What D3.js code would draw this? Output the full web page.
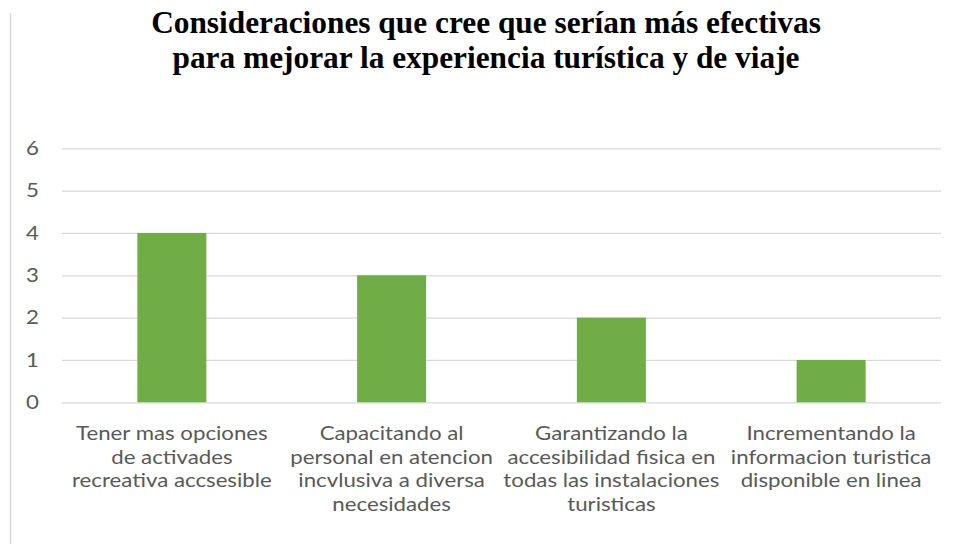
<!DOCTYPE html>
<html><head><meta charset="utf-8">
<script src="https://cdn.jsdelivr.net/npm/d3@7"></script>
<style>body{margin:0;background:#fff}svg{display:block}</style>
</head><body>
<svg id="c" width="956" height="546"></svg>
<script>
const titleLines = ["Consideraciones que cree que serían más efectivas", "para mejorar la experiencia turística y de viaje"];
const categories = [
  ["Tener mas opciones", "de activades", "recreativa accsesible"],
  ["Capacitando al", "personal en atencion", "incvlusiva a diversa", "necesidades"],
  ["Garantizando la", "accesibilidad fisica en", "todas las instalaciones", "turisticas"],
  ["Incrementando la", "informacion turistica", "disponible en linea"]
];
const values = [4, 3, 2, 1];
const yTicks = [0, 1, 2, 3, 4, 5, 6];

const svg = d3.select("#c");
const W = 956, H = 546;
const m = {left: 62, right: 15, top: 148.3, bottom: 143.7};
const FONT = "Lato, 'Open Sans', sans-serif";
const fs = 19.5;

svg.append("line").attr("x1", 10.5).attr("x2", 10.5).attr("y1", 13).attr("y2", 544)
  .attr("stroke", "#d9d9d9").attr("stroke-width", 1.5);

const x = d3.scaleBand().domain(d3.range(values.length))
  .range([m.left, W - m.right]).paddingInner(0.686).paddingOuter(0.343);
const y = d3.scaleLinear().domain([0, 6]).range([H - m.bottom, m.top]);

// width scale to emulate Calibri proportions
const lab = svg.append("g").attr("font-family", FONT).attr("fill", "#595959").attr("text-anchor", "middle");
const probe = lab.append("text").attr("font-size", fs).text(categories[0][2]);
const sx = 200 / probe.node().getComputedTextLength();
probe.remove();

// grid
const yAxis = d3.axisLeft(y).tickValues(yTicks).tickSize(-(W - m.right - m.left)).tickPadding(23).tickFormat(d3.format("d"));
const g = svg.append("g").attr("transform", `translate(${m.left},0)`).call(yAxis);
g.select(".domain").remove();
g.selectAll(".tick line").attr("stroke", "#d9d9d9").attr("stroke-width", 1.3);
g.selectAll(".tick text").attr("fill", "#595959").attr("font-family", FONT).attr("font-size", fs)
  .attr("transform", `translate(-23,0) scale(${sx},1) translate(23,0)`);

// bars
svg.append("g").selectAll("rect").data(values).join("rect")
  .attr("x", (d, i) => x(i)).attr("width", x.bandwidth())
  .attr("y", d => y(d)).attr("height", d => y(0) - y(d))
  .attr("fill", "#70ad47");

// category labels
svg.node().appendChild(lab.node());
categories.forEach((lines, i) => {
  const cx = x(i) + x.bandwidth() / 2;
  const t = lab.append("text").attr("font-size", fs)
    .attr("transform", `translate(${cx},0) scale(${sx},1)`);
  lines.forEach((s, j) => {
    t.append("tspan").attr("x", 0).attr("y", 440 + j * 23.7).text(s);
  });
});

// title
const tg = svg.append("g").attr("font-family", "'Liberation Serif', 'Times New Roman', serif").attr("font-weight", "bold").attr("text-anchor", "middle").attr("fill", "#000");
const tp = tg.append("text").attr("font-size", 28).text(titleLines[0]);
const tfs = 28 * 670 / tp.node().getComputedTextLength();
tp.remove();
titleLines.forEach((s, j) => {
  tg.append("text").attr("x", 486).attr("y", 33 + j * 35).attr("font-size", tfs).text(s);
});
</script>
</body></html>
